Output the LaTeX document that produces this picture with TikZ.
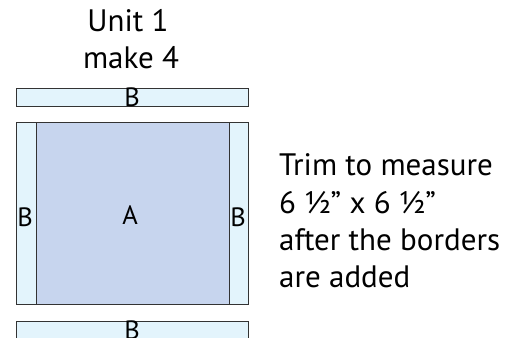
\documentclass[tikz,border=0pt]{standalone}
\usepackage{fontspec}
\setmainfont{PT Sans}
\definecolor{stripblue}{HTML}{E3F4FC}
\definecolor{ablue}{HTML}{C7D5EE}
\definecolor{edge}{HTML}{333333}
\begin{document}
\begin{tikzpicture}[x=1pt,y=-1pt,
  piece/.style={draw=edge, line width=1.3pt, inner sep=0pt, anchor=north west},
  stripbox/.style={piece, fill=stripblue},
  centrebox/.style={piece, fill=ablue},
  lbl/.style={inner sep=0pt, anchor=base, font=\fontsize{26.5}{30}\selectfont},
  title/.style={inner sep=0pt, anchor=base, font=\fontsize{31}{36}\selectfont},
  note/.style={inner sep=0pt, anchor=base west, font=\fontsize{31}{37}\selectfont}]
\useasboundingbox (0,0) rectangle (518,337);
\clip (0,0) rectangle (518,337);
% title
\node[title] (t1) at (128,32) {Unit 1};
\node[title] (t2) at (131,68) {make 4};
% top strip
\node[stripbox, minimum width=232pt, minimum height=18.5pt] (topB) at (16,87.5) {};
\node[lbl] (topBl) at (132,106) {B};
% left and right strips
\node[stripbox, minimum width=20pt, minimum height=182pt] (leftB) at (16,122) {};
\node[stripbox, minimum width=19.5pt, minimum height=182pt] (rightB) at (228.5,122) {};
\node[centrebox, minimum width=192.5pt, minimum height=182pt] (A) at (36,122) {};
\node[lbl] (leftBl) at (25,226) {B};
\node[lbl] (rightBl) at (238,226) {B};
\node[lbl] (Al) at (130,224) {A};
% bottom strip
\node[stripbox, minimum width=232pt, minimum height=18.5pt] (botB) at (16,320.5) {};
\node[lbl] (botBl) at (132,339) {B};
% note
\node[note] (n1) at (279,175) {Trim to measure};
\node[note] (n2) at (279,213) {6 ½” x 6 ½”};
\node[note] (n3) at (279,250) {after the borders};
\node[note] (n4) at (279,287) {are added};
\end{tikzpicture}
\end{document}
